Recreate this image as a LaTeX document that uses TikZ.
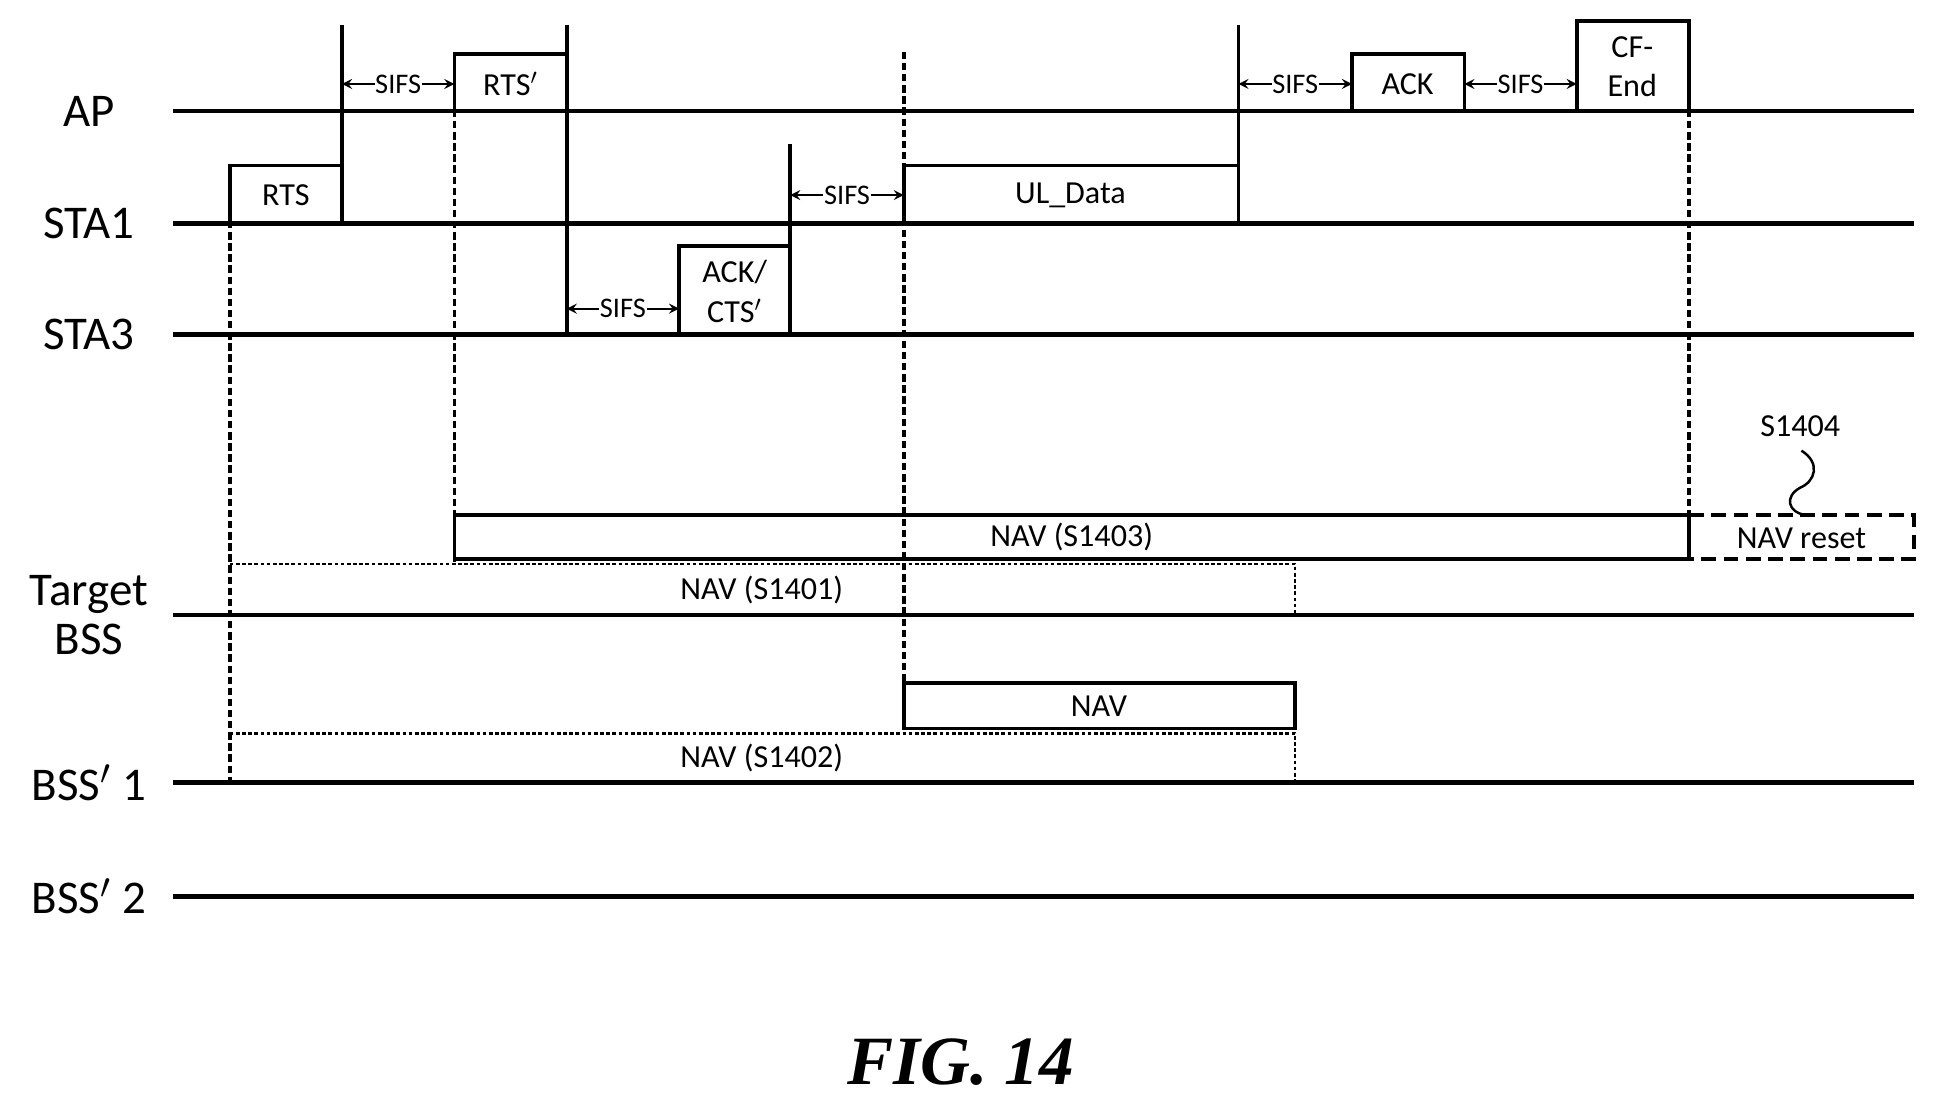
\documentclass[tikz,border=0pt]{standalone}
\usepackage{fontspec}
\setmainfont{Carlito}
\newfontfamily\figfont{Liberation Serif}
\begin{document}
\begin{tikzpicture}[x=0.5pt,y=-0.5pt,
  ln/.style={line width=1.9pt},
  box/.style={draw,line width=1.5pt},
  lbl/.style={font=\fontsize{13}{16}\selectfont},
  big/.style={font=\fontsize{19}{20}\selectfont},
  vd/.style={line width=1.5pt,dash pattern=on 3pt off 1.5pt},
  nd/.style={line width=0.9pt,dash pattern=on 1.5pt off 1pt},
  sifs/.style={<->,>=stealth,line width=0.8pt}]
\useasboundingbox (0,0) rectangle (1568,898);
\foreach \y/\n in {90/ap,181/sta1,271/sta3,498/tb,634/b1,726/b2}{
  \draw[ln] (140,\y) -- (1550,\y);}
\node[big] (lap) at (72,90) {AP};
\node[big] (lsta1) at (72,181) {STA1};
\node[big] (lsta3) at (72,271) {STA3};
\node[big,align=center] (ltb) at (72,498) {Target\\BSS};
\node[big] (lb1) at (72,634) {BSS$'$ 1};
\node[big] (lb2) at (72,726) {BSS$'$ 2};
\draw[box] (186,181) rectangle (277,134); \node[lbl] (rts) at (231.5,158) {RTS};
\draw[box] (368,90) rectangle (459,44); \node[lbl] (rtsp) at (413.5,68) {RTS$'$};
\draw[box] (550,271) rectangle (640,199); \node[lbl,align=center,inner sep=0pt] (ack1) at (595,236) {ACK/\\CTS$'$};
\draw[box] (732,181) rectangle (1003,134); \node[lbl] (ul) at (867,158) {UL\_Data};
\draw[box] (1095,90) rectangle (1186,44); \node[lbl] (ack) at (1140,68) {ACK};
\draw[box] (1277,90) rectangle (1368,17); \node[lbl,align=center,inner sep=0pt] (cf) at (1322,54) {CF-\\End};
\draw[box] (277,181) -- (277,20);
\draw[box] (459,20) -- (459,271);
\draw[box] (640,271) -- (640,117);
\draw[box] (1003,181) -- (1003,20);
\foreach \a/\b/\y in {277/368/68,459/550/250,640/732/158,1003/1095/68,1186/1277/68}{
  \draw[sifs] (\a,\y) -- node[fill=white,inner sep=0.3pt,font=\fontsize{11.5}{12}\selectfont]{SIFS} (\b,\y);}
\draw[vd] (186,134) -- (186,634);
\draw[vd] (368,44) -- (368,455);
\draw[vd] (732,42) -- (732,590);
\draw[vd] (1368,17) -- (1368,453);
\draw[box] (368,417) rectangle (1368,453); \node[lbl] (n3) at (868,435) {NAV (S1403)};
\draw[line width=1.5pt,dash pattern=on 6pt off 3pt] (1368,417) -- (1550,417) -- (1550,453) -- (1368,453);
\node[lbl] (nr) at (1459,436) {NAV reset};
\draw[nd] (186,457) -- (1049,457) -- (1049,498);
\node[lbl] (n1) at (617,478) {NAV (S1401)};
\draw[box] (732,553) rectangle (1049,590); \node[lbl] (nav) at (890,572) {NAV};
\draw[nd] (186,594) -- (1049,594) -- (1049,634);
\node[lbl] (n2) at (617,614) {NAV (S1402)};
\node[lbl] (s4) at (1458,345) {S1404};
\draw[line width=1pt] (1459,365) .. controls (1475,375) and (1470,390) .. (1458,395) .. controls (1445,402) and (1448,415) .. (1462,417);
\node[font=\fontsize{28}{30}\selectfont\figfont\bfseries\itshape] (fig) at (778,860) {FIG. 14};
\end{tikzpicture}
\end{document}
